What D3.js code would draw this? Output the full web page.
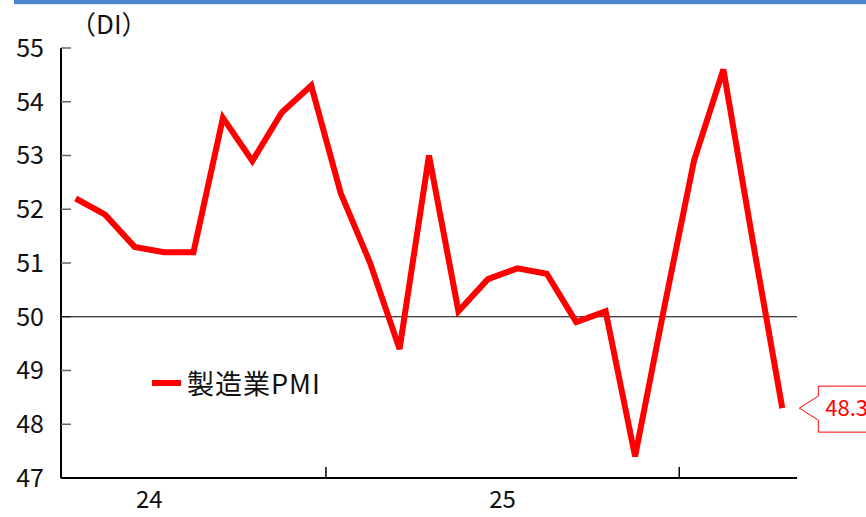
<!DOCTYPE html>
<meta charset="utf-8">
<title>製造業PMI</title>
<style>
body {
    margin: 0;
    background: #fff;
}
svg text {
    font-family: "Noto Sans CJK JP", "Noto Sans", sans-serif;
}
</style>
<body>
<script src="https://d3js.org/d3.v7.min.js"></script>
<script>

// months from Apr 2024 to Apr 2026
var months = ["2024-04","2024-05","2024-06","2024-07","2024-08","2024-09","2024-10","2024-11","2024-12",
              "2025-01","2025-02","2025-03","2025-04","2025-05","2025-06","2025-07","2025-08","2025-09","2025-10","2025-11","2025-12",
              "2026-01","2026-02","2026-03","2026-04"];
var pmi = [52.2, 51.9, 51.3, 51.2, 51.2, 53.7, 52.9, 53.8, 54.3,
           52.3, 51.0, 49.4, 53.0, 50.1, 50.7, 50.9, 50.8, 49.9, 50.1, 47.4, 50.2,
           52.9, 54.6, 51.4, 48.3];
var yTicks = [47, 48, 49, 50, 51, 52, 53, 54, 55];
var yearLabels = ["24", "25"];
var seriesName = "製造業PMI";

var width = 866,
    height = 517;

var margin = {left: 61, right: 69, top: 48, bottom: 39};

var svg = d3.select("body").append("svg")
    .attr("width", width)
    .attr("height", height);

// top blue rule
svg.append("rect")
    .attr("x", 14).attr("y", 0)
    .attr("width", width - 14).attr("height", 4)
    .attr("fill", "#4a86cc");
svg.append("rect")
    .attr("x", 14).attr("y", 4)
    .attr("width", width - 14).attr("height", 1)
    .attr("fill", "#d6e4f4");

var x = d3.scaleBand()
    .domain(months)
    .range([margin.left, width - margin.right]);

var y = d3.scaleLinear()
    .domain([47, 55])
    .range([height - margin.bottom, margin.top]);

// y axis line + inner ticks
svg.append("line")
    .attr("x1", margin.left).attr("x2", margin.left)
    .attr("y1", y(55)).attr("y2", y(47))
    .attr("stroke", "#000").attr("stroke-width", 2);

svg.selectAll(".ytick")
    .data(yTicks)
  .enter().append("line")
    .attr("x1", margin.left).attr("x2", margin.left + 10)
    .attr("y1", d => y(d)).attr("y2", d => y(d))
    .attr("stroke", "#666").attr("stroke-width", 1.5);

svg.selectAll(".ylabel")
    .data(yTicks)
  .enter().append("text")
    .attr("x", 44)
    .attr("y", d => y(d))
    .attr("dy", "0.35em")
    .attr("text-anchor", "end")
    .attr("font-size", 25)
    .attr("fill", "#111")
    .text(d => d);

svg.append("text")
    .attr("x", 70).attr("y", 34)
    .attr("font-size", 26)
    .attr("fill", "#111")
    .text("（DI）");

// 50 line
svg.append("line")
    .attr("x1", margin.left).attr("x2", width - margin.right)
    .attr("y1", y(50)).attr("y2", y(50))
    .attr("stroke", "#000").attr("stroke-width", 1);

// x axis
svg.append("line")
    .attr("x1", margin.left).attr("x2", width - margin.right)
    .attr("y1", y(47)).attr("y2", y(47))
    .attr("stroke", "#000").attr("stroke-width", 2);

// year boundary ticks (January)
var janMonths = months.filter(m => m.slice(5) === "01");
svg.selectAll(".xtick")
    .data(janMonths)
  .enter().append("line")
    .attr("x1", d => x(d)).attr("x2", d => x(d))
    .attr("y1", y(47) - 11).attr("y2", y(47))
    .attr("stroke", "#000").attr("stroke-width", 1.5);

// year labels centred on the middle of each calendar year
var step = x.step();
svg.selectAll(".xlabel")
    .data(yearLabels)
  .enter().append("text")
    .attr("x", d => x("20" + d + "-01") !== undefined
        ? x("20" + d + "-01") + step * 6
        : x(months[0]) - step * 3 + step * 6)
    .attr("y", 508)
    .attr("text-anchor", "middle")
    .attr("font-size", 24)
    .attr("fill", "#111")
    .text(d => d);

// the series
var line = d3.line()
    .x((d, i) => x(months[i]) + x.bandwidth() / 2)
    .y(d => y(d));

svg.append("path")
    .datum(pmi)
    .attr("d", line)
    .attr("fill", "none")
    .attr("stroke", "#ff0000")
    .attr("stroke-width", 6)
    .attr("stroke-linejoin", "miter");

// legend
svg.append("line")
    .attr("x1", 152).attr("x2", 181)
    .attr("y1", 383).attr("y2", 383)
    .attr("stroke", "#ff0000").attr("stroke-width", 6);
svg.append("text")
    .attr("x", 187).attr("y", 394)
    .attr("font-size", 27)
    .attr("letter-spacing", 1)
    .attr("fill", "#111")
    .text(seriesName);

// callout for last value
var last = pmi[pmi.length - 1],
    lx = x(months[months.length - 1]) + x.bandwidth() / 2,
    ly = y(last);
var bx = lx + 36, tipX = lx + 17;
svg.append("path")
    .attr("d", "M" + tipX + "," + ly +
        "L" + bx + "," + (ly - 12) +
        "V" + (ly - 22) +
        "H" + (width + 5) +
        "V" + (ly + 24) +
        "H" + bx +
        "V" + (ly + 12) + "Z")
    .attr("fill", "#fff")
    .attr("stroke", "#ff0000")
    .attr("stroke-width", 1);
svg.append("text")
    .attr("x", bx + 7).attr("y", ly + 8)
    .attr("font-size", 22)
    .attr("fill", "#ff0000")
    .text(last.toFixed(1));

</script>
</body>
